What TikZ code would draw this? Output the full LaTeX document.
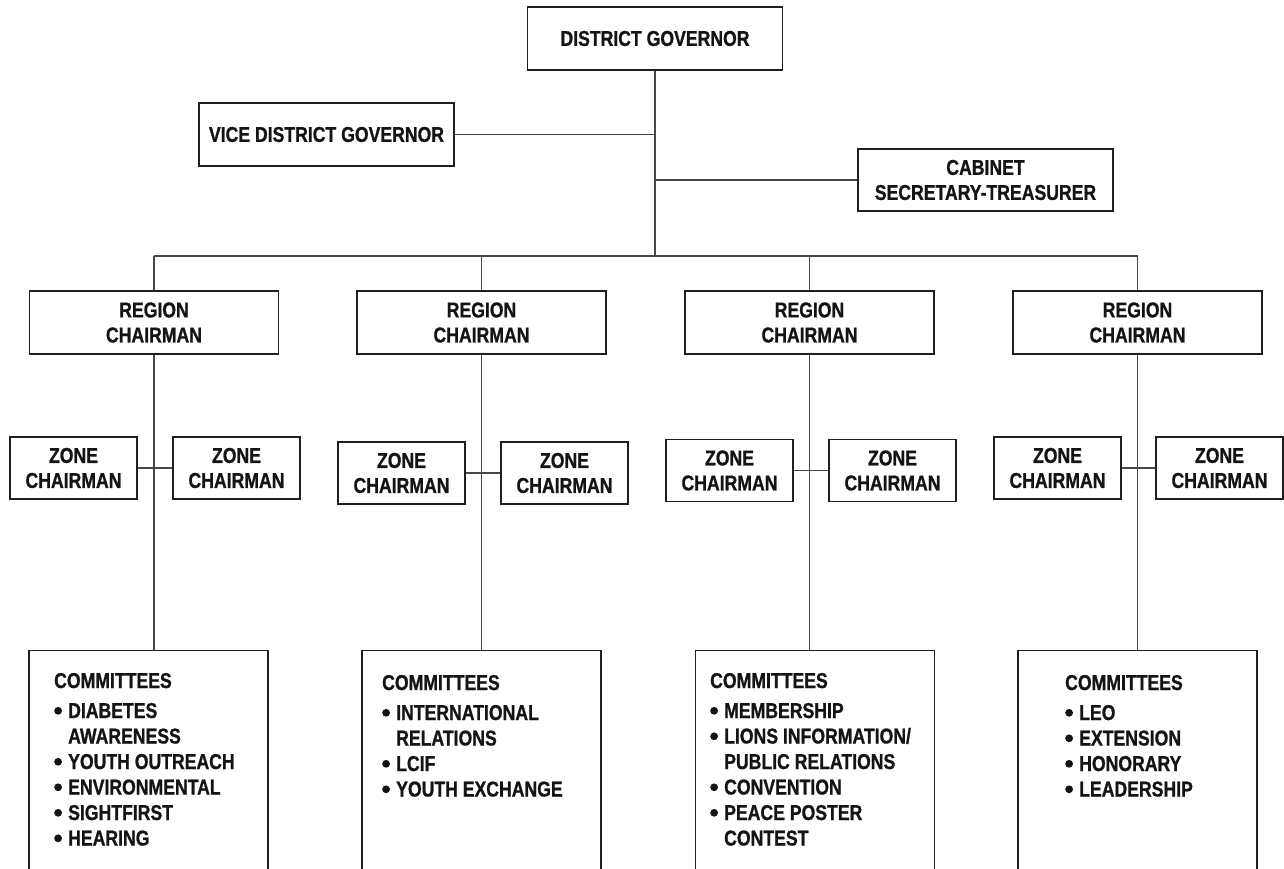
\documentclass[tikz,border=0pt]{standalone}
\usepackage{fontspec}
\newfontfamily\orgfont{Liberation Sans}[UprightFont={* Bold}, FakeStretch=0.82, FakeBold=0.9]
\newcommand{\bul}{\makebox[14pt][l]{\tikz[baseline=0pt,x=1pt,y=1pt]{\fill[black!92] (4,7.2) circle (3.9);}}}
\newcommand{\ind}{\hspace*{14pt}}
\begin{document}
\begin{tikzpicture}[x=1pt,y=-1pt,
  orgtext/.style={font=\orgfont\fontsize{21.5}{25}\selectfont, text=black!92},
  box/.style={orgtext, draw=black!88, line width=1.4pt, rectangle, inner sep=0pt, align=center},
  topbox/.style={box, minimum width=255pt, minimum height=63pt},
  regbox/.style={box, minimum width=249pt, minimum height=63pt},
  zonebox/.style={box, minimum width=127pt, minimum height=62pt},
  combox/.style={draw=black!88, line width=1.4pt, rectangle, inner sep=0pt, minimum width=239pt, minimum height=260pt, anchor=north},
  comtext/.style={font=\orgfont\fontsize{21.5}{25.5}\selectfont, text=black!92, inner sep=0pt, anchor=base west},
  link/.style={draw=black!72, line width=1.1pt}]
\useasboundingbox (0,0) rectangle (1284,869);
\clip (0,0) rectangle (1284,869);
\fill[white] (0,0) rectangle (1284,869);

% top level
\node[topbox] (DG) at (655,38.5) {DISTRICT GOVERNOR};
\node[topbox] (VDG) at (326.5,134.5) {VICE DISTRICT GOVERNOR};
\node[topbox, minimum height=62pt] (CST) at (985.5,180) {CABINET\\SECRETARY-TREASURER};
\coordinate (bus) at (655,256);

% regions
\node[regbox] (R1) at (154,322.5) {REGION\\CHAIRMAN};
\node[regbox] (R2) at (481.5,322.5) {REGION\\CHAIRMAN};
\node[regbox] (R3) at (809.5,322.5) {REGION\\CHAIRMAN};
\node[regbox] (R4) at (1137.5,322.5) {REGION\\CHAIRMAN};

% zones
\node[zonebox] (Z1a) at (73.5,468) {ZONE\\CHAIRMAN};
\node[zonebox] (Z1b) at (236.5,468) {ZONE\\CHAIRMAN};
\node[zonebox] (Z2a) at (401.5,473) {ZONE\\CHAIRMAN};
\node[zonebox] (Z2b) at (564.5,473) {ZONE\\CHAIRMAN};
\node[zonebox] (Z3a) at (729.5,470.5) {ZONE\\CHAIRMAN};
\node[zonebox] (Z3b) at (892.5,470.5) {ZONE\\CHAIRMAN};
\node[zonebox] (Z4a) at (1057.5,468) {ZONE\\CHAIRMAN};
\node[zonebox] (Z4b) at (1219.5,468) {ZONE\\CHAIRMAN};

% committees
\node[combox] (C1) at (148.5,650) {};
\node[combox] (C2) at (481.5,650) {};
\node[combox] (C3) at (815,650) {};
\node[combox] (C4) at (1137.5,650) {};

\node[comtext] (T1) at (54,688) {\begin{tabular}[t]{@{}l@{}}
COMMITTEES\\[4.5pt]
\bul DIABETES\\
\ind AWARENESS\\
\bul YOUTH OUTREACH\\
\bul ENVIRONMENTAL\\
\bul SIGHTFIRST\\
\bul HEARING
\end{tabular}};
\node[comtext] (T2) at (382,690) {\begin{tabular}[t]{@{}l@{}}
COMMITTEES\\[4.5pt]
\bul INTERNATIONAL\\
\ind RELATIONS\\
\bul LCIF\\
\bul YOUTH EXCHANGE
\end{tabular}};
\node[comtext] (T3) at (710,688) {\begin{tabular}[t]{@{}l@{}}
COMMITTEES\\[4.5pt]
\bul MEMBERSHIP\\
\bul LIONS INFORMATION/\\
\ind PUBLIC RELATIONS\\
\bul CONVENTION\\
\bul PEACE POSTER\\
\ind CONTEST
\end{tabular}};
\node[comtext] (T4) at (1065,690) {\begin{tabular}[t]{@{}l@{}}
COMMITTEES\\[4.5pt]
\bul LEO\\
\bul EXTENSION\\
\bul HONORARY\\
\bul LEADERSHIP
\end{tabular}};

% connectors
\draw[link] (DG.south) -- (bus);
\draw[link] (VDG.east) -- (VDG.east -| DG.south);
\draw[link] (CST.west) -- (CST.west -| DG.south);
\draw[link] (R1.north |- bus) -- (R4.north |- bus);
\foreach \r in {R1,R2,R3,R4}{
  \draw[link] (\r.north) -- (\r.north |- bus);
}
\draw[link] (R1.south) -- (R1.south |- C1.north);
\draw[link] (R2.south) -- (R2.south |- C2.north);
\draw[link] (R3.south) -- (R3.south |- C3.north);
\draw[link] (R4.south) -- (R4.south |- C4.north);
\draw[link] (Z1a.east) -- (Z1b.west);
\draw[link] (Z2a.east) -- (Z2b.west);
\draw[link] (Z3a.east) -- (Z3b.west);
\draw[link] (Z4a.east) -- (Z4b.west);
\end{tikzpicture}
\end{document}
